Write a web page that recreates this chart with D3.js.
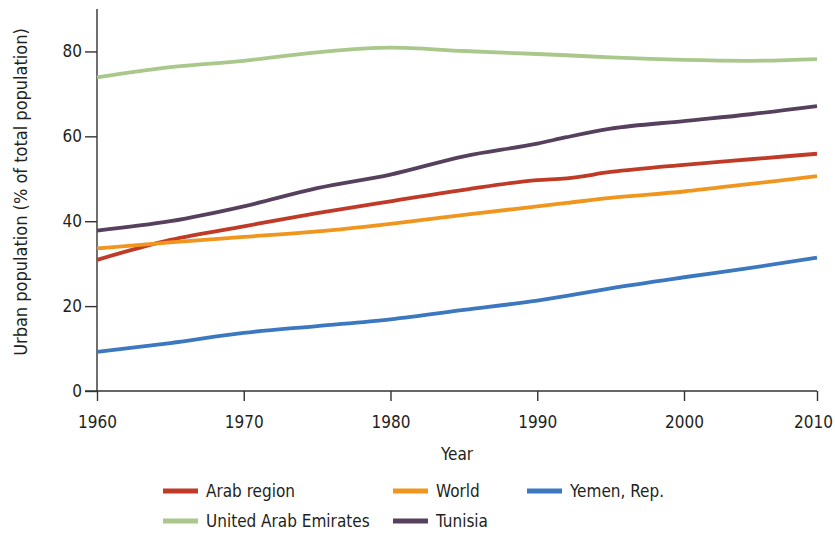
<!DOCTYPE html>
<html>
<head>
<meta charset="utf-8">
<script src="https://cdn.jsdelivr.net/npm/d3@7"></script>
<style>
  body { margin: 0; background: #fff; }
  svg text { font-family: "Liberation Sans Narrow", "DejaVu Sans Condensed", "Roboto Condensed", sans-serif; fill: #231f20; }
</style>
</head>
<body>
<div id="graf"></div>
<script>
// datos
years = [1960, 1965, 1970, 1975, 1980, 1985, 1990, 1992, 1995, 2000, 2005, 2010]

arabRegion = [30.9, 35.6, 38.8, 41.9, 44.7, 47.4, 49.7, 50.1, 51.6, 53.3, 54.6, 55.9]
world      = [33.6, 35.0, 36.3, 37.6, 39.4, 41.5, 43.5, 44.3, 45.5, 47.0, 48.8, 50.6]
yemen      = [9.2, 11.3, 13.7, 15.3, 16.9, 19.1, 21.3, 22.4, 24.2, 26.8, 29.0, 31.4]
uae        = [73.9, 76.3, 77.8, 79.8, 80.9, 80.1, 79.4, 79.1, 78.6, 78.0, 77.8, 78.2]
tunisia    = [37.8, 40.0, 43.5, 47.8, 51.0, 55.3, 58.3, 59.8, 61.8, 63.6, 65.2, 67.1]

seriesNames  = ['Arab region', 'World', 'Yemen, Rep.', 'United Arab Emirates', 'Tunisia']
seriesValues = [arabRegion, world, yemen, uae, tunisia]
seriesColors = ['#bf3b27', '#f0961e', '#3b78c0', '#aac88c', '#56405d']

xTicks = [1960, 1970, 1980, 1990, 2000, 2010]
yTicks = [0, 20, 40, 60, 80]

// dimensiones
ancho_total = 835
alto_total = 533
margins = { top: 9, left: 97, right: 18, bottom: 142 }
ancho = ancho_total - margins.left - margins.right
alto = alto_total - margins.top - margins.bottom

svg = d3.select('#graf').append('svg')
  .attr('width', ancho_total)
  .attr('height', alto_total)

g = svg.append('g')
  .attr('transform', `translate(${margins.left}, ${margins.top})`)

// escalas (la ultima decada esta algo comprimida en el original)
x = d3.scaleLinear()
  .domain([1960, 2000, 2010])
  .range([0, 587, 720])

y = d3.scaleLinear()
  .domain([0, 90])
  .range([alto, 0])

// ejes
xAxis = g.append('g')
  .attr('transform', `translate(0, ${alto})`)
  .call(d3.axisBottom(x).tickValues(xTicks).tickFormat(d3.format('d')).tickSizeOuter(0).tickSize(10).tickPadding(15))

yAxis = g.append('g')
  .call(d3.axisLeft(y).tickValues(yTicks).tickSizeOuter(0).tickSize(12).tickPadding(3))

g.selectAll('.domain, .tick line')
  .attr('stroke', '#333')
  .attr('stroke-width', 1.4)
g.selectAll('.tick text')
  .style('font-size', '17px')

// el ultimo año queda pegado al borde
xAxis.selectAll('.tick text').filter(d => d === 2010).attr('dx', -4)

// extender la linea del eje y hasta arriba
yAxis.select('.domain').attr('d', `M0,${alto}V0`)
// linea del eje x empieza en el tick del 0
xAxis.select('.domain').attr('d', `M-12,0H${ancho}`)

// titulos
g.append('text')
  .attr('x', ancho / 2)
  .attr('y', alto + 69)
  .attr('text-anchor', 'middle')
  .style('font-size', '17px')
  .text('Year')

g.append('text')
  .attr('transform', `translate(-70, ${alto / 2 - 8}) rotate(-90)`)
  .attr('text-anchor', 'middle')
  .style('font-size', '18px')
  .text('Urban population (% of total population)')

// lineas
line = d3.line()
  .x((d, i) => x(years[i]))
  .y(d => y(d))
  .curve(d3.curveMonotoneX)

order = [3, 4, 0, 1, 2]
order.forEach(k => {
  g.append('path')
    .datum(seriesValues[k])
    .attr('d', line)
    .attr('fill', 'none')
    .attr('stroke', seriesColors[k])
    .attr('stroke-width', 3.8)
    .attr('stroke-linejoin', 'round')
})

// leyenda
legendPos = [[163, 491], [393, 491], [527, 491], [163, 521], [393, 521]]
seriesNames.forEach((d, i) => {
  var p = legendPos[i]
  svg.append('rect')
    .attr('x', p[0])
    .attr('y', p[1] - 2.5)
    .attr('width', 35)
    .attr('height', 5)
    .attr('fill', seriesColors[i])
  svg.append('text')
    .attr('x', p[0] + 43)
    .attr('y', p[1] + 6)
    .style('font-size', '17px')
    .text(d)
})
</script>
</body>
</html>
